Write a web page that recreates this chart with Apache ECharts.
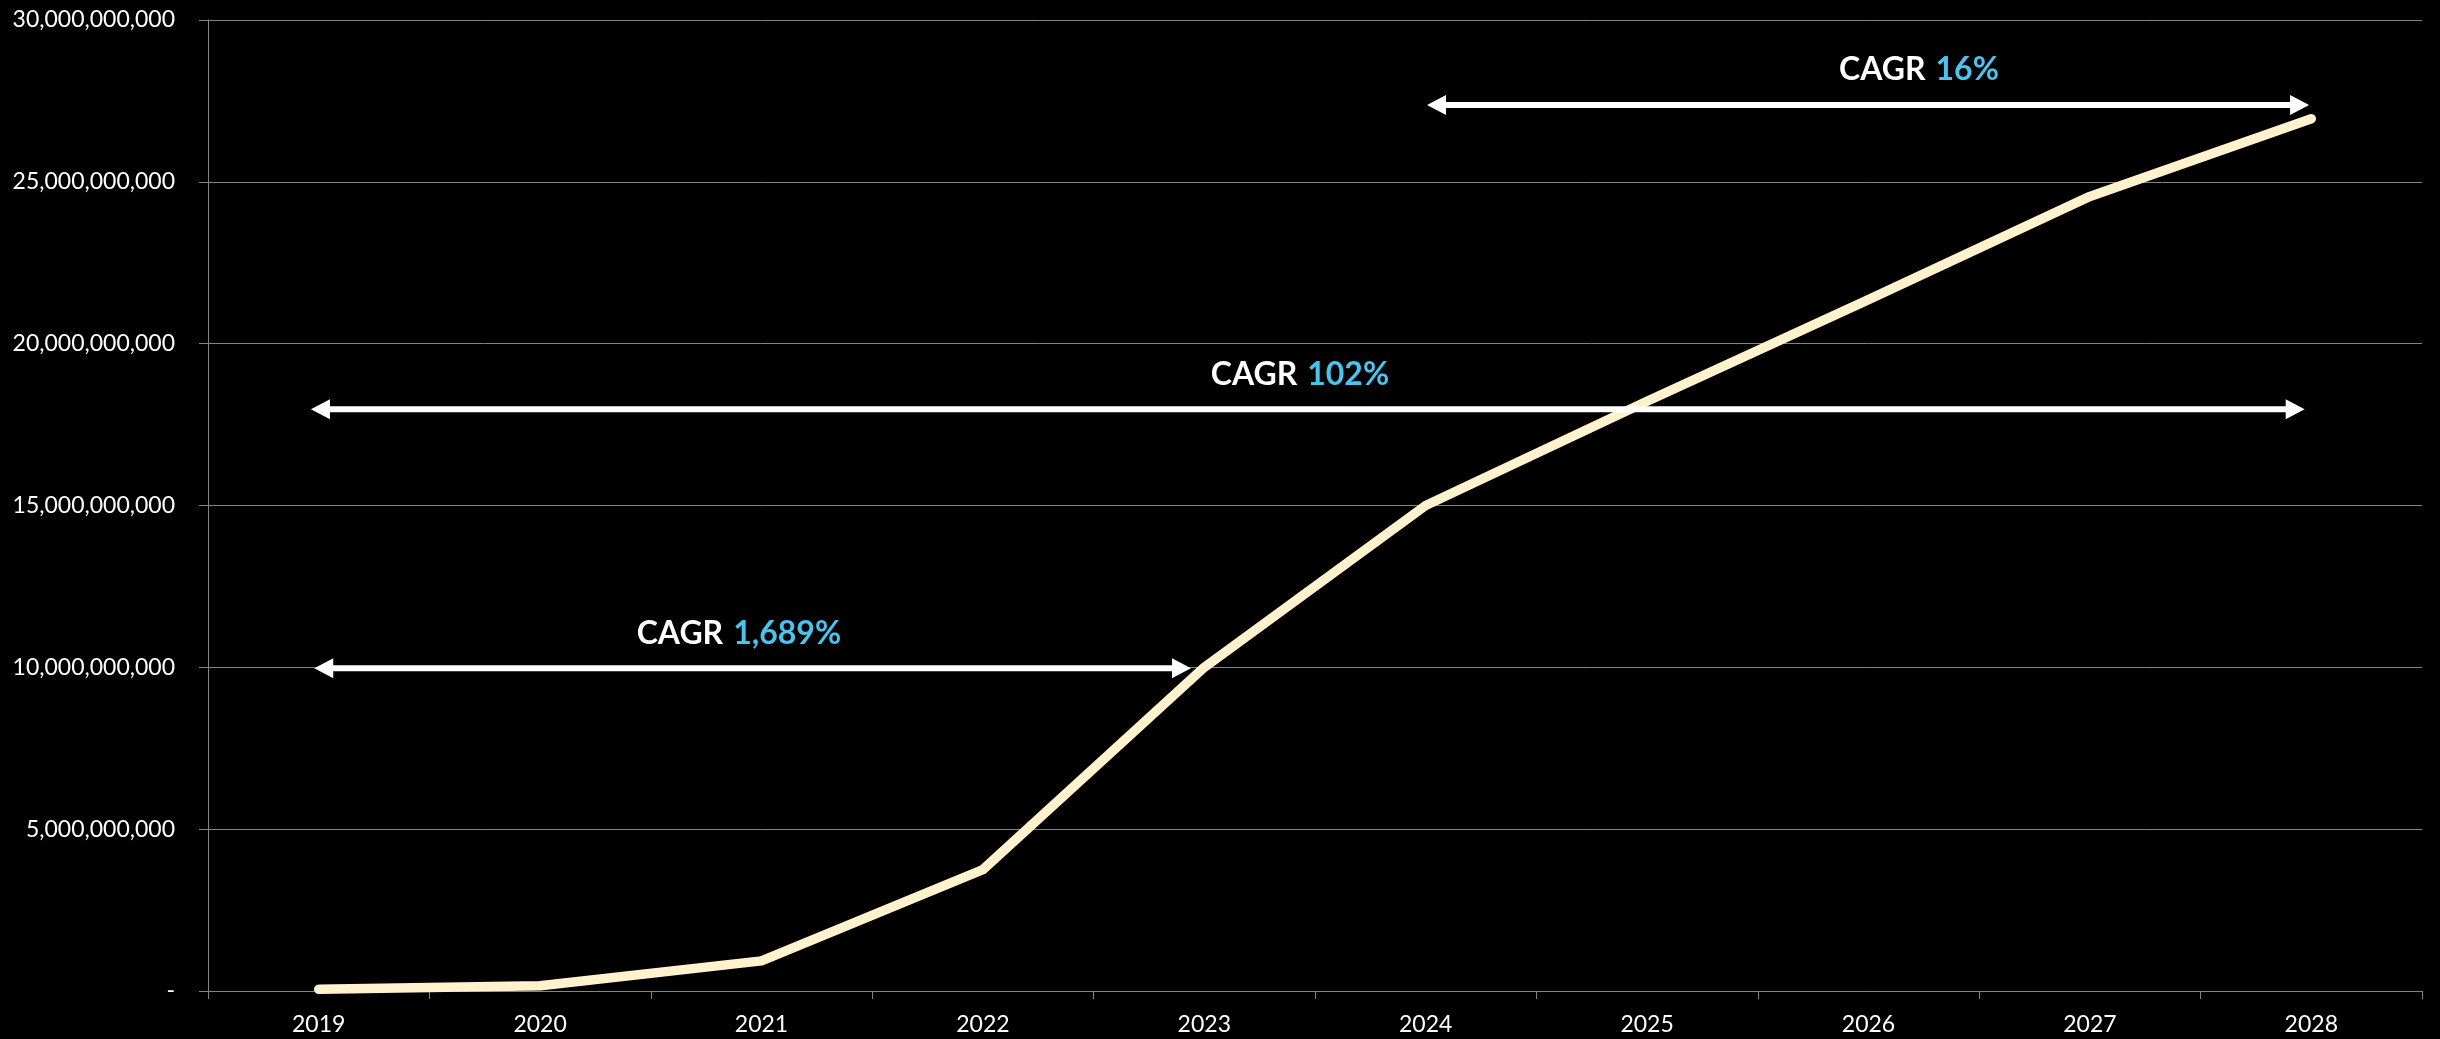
<!DOCTYPE html>
<html>
<head>
<meta charset="utf-8">
<title>Market size 2019–2028</title>
<script src="https://cdn.jsdelivr.net/npm/echarts@6/dist/echarts.min.js"></script>
<style>
  html, body { margin: 0; padding: 0; background: #000; }
  #chart { width: 2440px; height: 1039px; }
</style>
</head>
<body>
<div id="chart"></div>
<script>
// Years on the category axis
const years = ['2019', '2020', '2021', '2022', '2023', '2024', '2025', '2026', '2027', '2028'];

// Market size per year
const marketValues = [
  0.055e9, 0.16e9, 0.93e9, 3.75e9, 10.0e9,
  15.0e9, 18.22e9, 21.36e9, 24.55e9, 26.95e9
];

// Value-axis ticks
const yMin = 0;
const yMax = 30e9;
const yStep = 5e9;

// CAGR annotations: growth rate, span (in category-index units) and level
const cagrRates = ['1,689%', '102%', '16%'];
const cagrFrom = [-0.02, -0.035, 5.006];
const cagrTo = [3.94, 8.97, 8.99];
const cagrLevel = [9.97e9, 17.97e9, 27.37e9];
const cagrLabelAt = [1.898, 4.432, 7.228];

const FONT = 'Lato, "Open Sans", "Noto Sans", sans-serif';
const GRID_GREY = '#858585';
const LINE_CREAM = '#FFF2CC';
const RATE_BLUE = '#4BC3EE';

const cagrRows = cagrRates.map((r, i) => [cagrFrom[i], cagrTo[i], cagrLevel[i], cagrLabelAt[i], i]);

function renderArrow(params, api) {
  const i = api.value(4);
  const p1 = api.coord([api.value(0), api.value(2)]);
  const p2 = api.coord([api.value(1), api.value(2)]);
  const lbl = api.coord([api.value(3), api.value(2)]);
  const headLen = 19;
  const headHalf = 10;
  const y = p1[1];
  return {
    type: 'group',
    children: [
      {
        type: 'line',
        shape: { x1: p1[0] + headLen - 2, y1: y, x2: p2[0] - headLen + 2, y2: y },
        style: { stroke: '#ffffff', lineWidth: 6 }
      },
      {
        type: 'polygon',
        shape: { points: [[p1[0], y], [p1[0] + headLen, y - headHalf], [p1[0] + headLen, y + headHalf]] },
        style: { fill: '#ffffff' }
      },
      {
        type: 'polygon',
        shape: { points: [[p2[0], y], [p2[0] - headLen, y - headHalf], [p2[0] - headLen, y + headHalf]] },
        style: { fill: '#ffffff' }
      },
      {
        type: 'text',
        x: lbl[0],
        y: y - 35,
        style: {
          text: '{a|CAGR}{b|' + cagrRates[i] + '}',
          align: 'center',
          verticalAlign: 'middle',
          rich: {
            a: { fill: '#ffffff', fontFamily: FONT, fontWeight: 'bold', fontSize: 32 },
            b: { fill: RATE_BLUE, fontFamily: FONT, fontWeight: 'bold', fontSize: 32, padding: [0, 0, 0, 10] }
          }
        }
      }
    ]
  };
}

const chart = echarts.init(document.getElementById('chart'), null, { renderer: 'canvas' });

chart.setOption({
  backgroundColor: '#000000',
  animation: false,
  grid: { left: 208, right: 18, top: 20, bottom: 48, containLabel: false },
  xAxis: [
    {
      type: 'category',
      data: years,
      boundaryGap: true,
      axisLine: { show: true, onZero: false, lineStyle: { color: GRID_GREY, width: 1 } },
      axisTick: { show: true, length: 8, lineStyle: { color: GRID_GREY } },
      axisLabel: { color: '#ffffff', fontFamily: FONT, fontSize: 23, margin: 22 },
      splitLine: { show: false }
    },
    {
      type: 'value',
      min: -0.5,
      max: 9.5,
      show: false
    }
  ],
  yAxis: {
    type: 'value',
    min: yMin,
    max: yMax,
    interval: yStep,
    axisLine: { show: true, onZero: false, lineStyle: { color: GRID_GREY, width: 1 } },
    axisTick: { show: true, length: 9, lineStyle: { color: GRID_GREY } },
    axisLabel: {
      color: '#ffffff',
      fontFamily: FONT,
      fontSize: 23,
      margin: 33,
      formatter: v => (v === 0 ? '-' : v.toLocaleString('en-US'))
    },
    splitLine: { show: true, lineStyle: { color: GRID_GREY, width: 1 } }
  },
  series: [
    {
      name: 'Market size',
      type: 'line',
      data: marketValues,
      symbol: 'none',
      lineStyle: { color: LINE_CREAM, width: 9.5, cap: 'round', join: 'round' },
      z: 3
    },
    {
      name: 'CAGR',
      type: 'custom',
      xAxisIndex: 1,
      yAxisIndex: 0,
      data: cagrRows,
      renderItem: renderArrow,
      encode: { x: [0, 1, 3], y: 2 },
      z: 5,
      silent: true
    }
  ]
});
</script>
</body>
</html>
